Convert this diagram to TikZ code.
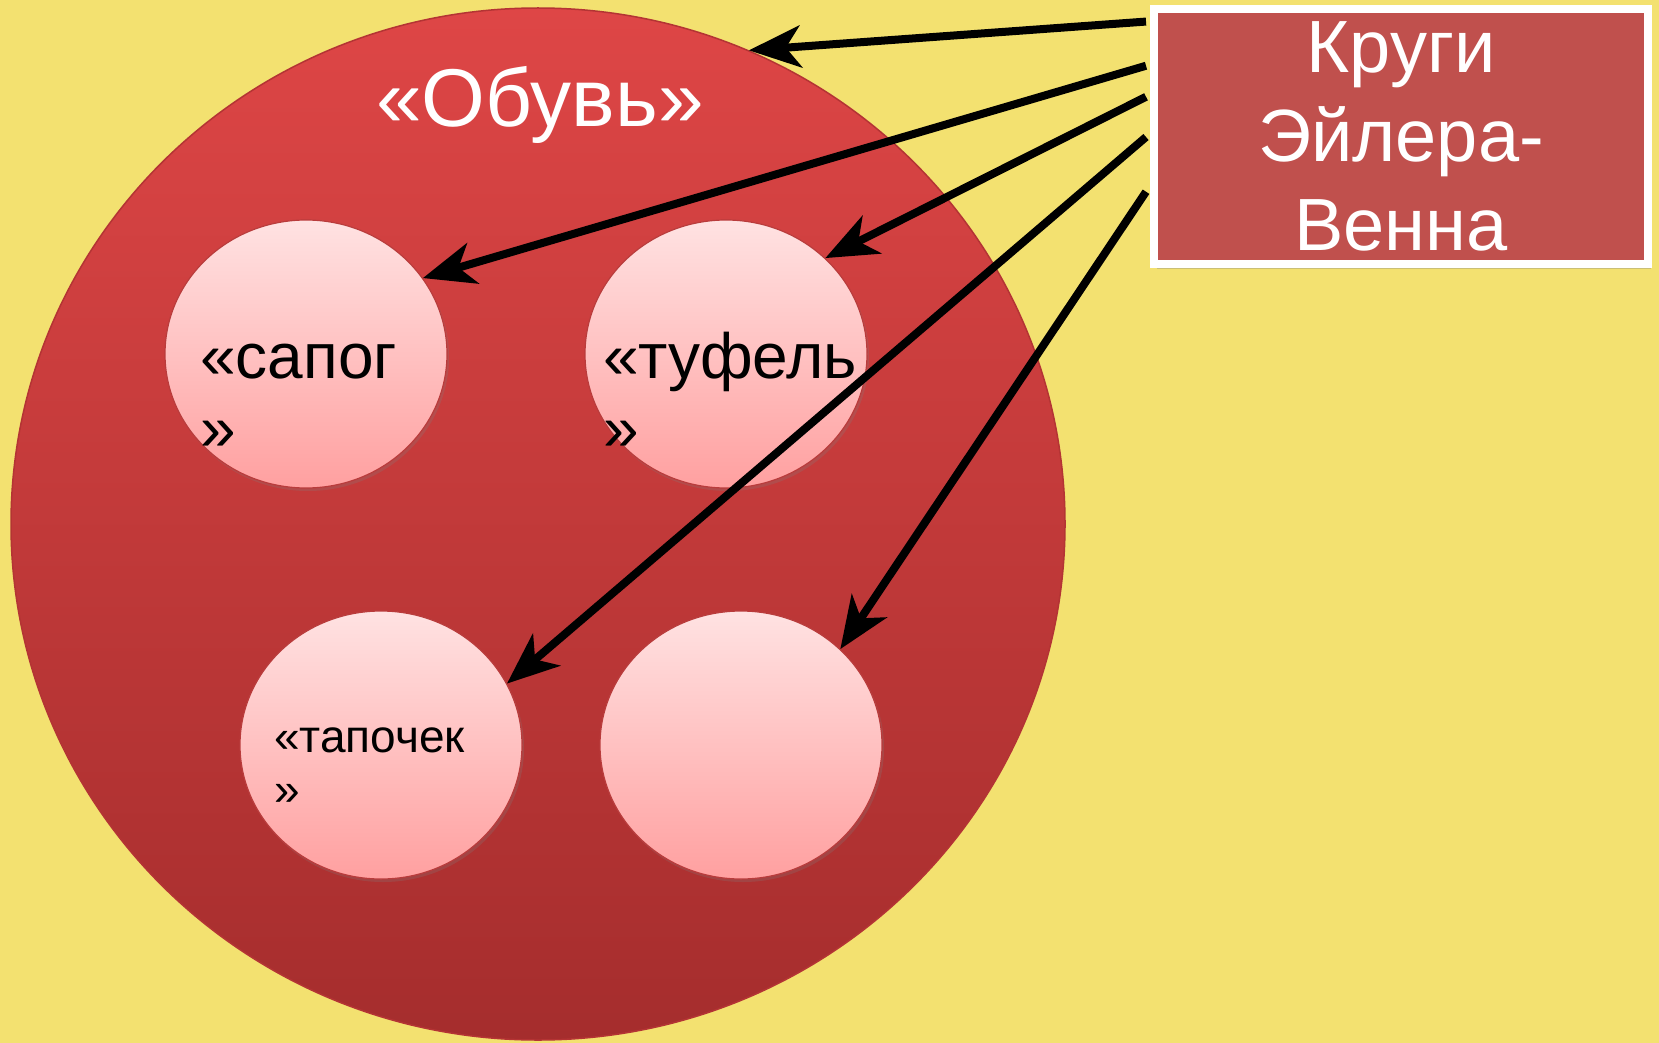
\documentclass[tikz,border=0pt]{standalone}
\usepackage{fontspec}
\setmainfont{Liberation Sans}
\usetikzlibrary{shapes.geometric,arrows.meta,calc,shadows}
\definecolor{bgyellow}{RGB}{243,225,112}
\definecolor{bigtop}{RGB}{222,70,70}
\definecolor{bigbot}{RGB}{165,45,45}
\definecolor{bigedge}{RGB}{180,52,52}
\definecolor{smalltop}{RGB}{255,226,226}
\definecolor{smallbot}{RGB}{255,160,160}
\definecolor{smalledge}{RGB}{185,60,60}
\definecolor{boxred}{RGB}{192,80,77}
\tikzset{
  setcircle/.style={ellipse, inner sep=0pt, top color=bigtop, bottom color=bigbot,
    draw=bigedge, line width=1.5pt, minimum width=1054pt, minimum height=1032pt},
  subset/.style={ellipse, inner sep=0pt, top color=smalltop, bottom color=smallbot,
    draw=smalledge, line width=1.2pt, minimum width=282pt, minimum height=268pt,
    drop shadow={shadow xshift=2pt, shadow yshift=-3pt, opacity=0.25}},
  titlebox/.style={rectangle, fill=boxred, draw=white, line width=8pt, inner sep=0pt,
    minimum width=494pt, minimum height=255pt, align=center, text=white,
    font=\fontsize{74}{89}\selectfont,
    drop shadow={shadow xshift=3pt, shadow yshift=-5pt, opacity=0.35}},
  biglabel/.style={inner sep=0pt, anchor=base, text=white, font=\fontsize{82}{98}\selectfont},
  elabel/.style={inner sep=0pt, anchor=base west, text=black, font=\fontsize{64}{72}\selectfont},
  slabel/.style={inner sep=0pt, anchor=base west, text=black, font=\fontsize{46}{53}\selectfont},
  pointer/.style={draw=black, line width=8pt, -{Stealth[length=52pt, width=42pt, inset=15pt]}},
  pointershadow/.style={draw=black, opacity=0.25, line width=8pt}
}
\begin{document}
\begin{tikzpicture}[x=1pt,y=-1pt]
\useasboundingbox (0,0) rectangle (1659,1043);
\fill[bgyellow] (0,0) rectangle (1659,1043);

\node[setcircle] (shoes) at (538,524) {};
\node[biglabel] (shoeslabel) at (540,127) {«Обувь»};

\node[subset] (boot) at (306,354) {};
\node[subset] (shoe) at (726,354) {};
\node[subset] (slipper) at (381,745) {};
\node[subset] (empty) at (741,745) {};

\node[elabel] (bootA) at (200,378) {«сапог};
\node[elabel] (bootB) at (200,450) {»};
\node[elabel] (shoeA) at (603,378) {«туфель};
\node[elabel] (shoeB) at (603,450) {»};
\node[slabel] (slipA) at (274,752) {«тапочек};
\node[slabel] (slipB) at (274,805) {»};

\node[titlebox] (box) at (1401,136.5) {Круги\\Эйлера-\\Венна};

\coordinate (s1) at ($($(box.north west)!0.063!(box.south west)$)+(-4,0)$);
\coordinate (s2) at ($($(box.north west)!0.231!(box.south west)$)+(-4,0)$);
\coordinate (s3) at ($($(box.north west)!0.349!(box.south west)$)+(-4,0)$);
\coordinate (s4) at ($($(box.north west)!0.502!(box.south west)$)+(-4,0)$);
\coordinate (s5) at ($($(box.north west)!0.710!(box.south west)$)+(-4,0)$);

\begin{scope}[pointer/.append style={line width=8pt}]
\draw[pointer] (s1) -- (shoes.66);
\draw[pointer] (s2) -- (boot.33);
\draw[pointer] (s3) -- (shoe.44);
\draw[pointer] (s4) -- (slipper.26);
\draw[pointer] (s5) -- (empty.44);
\end{scope}
\end{tikzpicture}
\end{document}
